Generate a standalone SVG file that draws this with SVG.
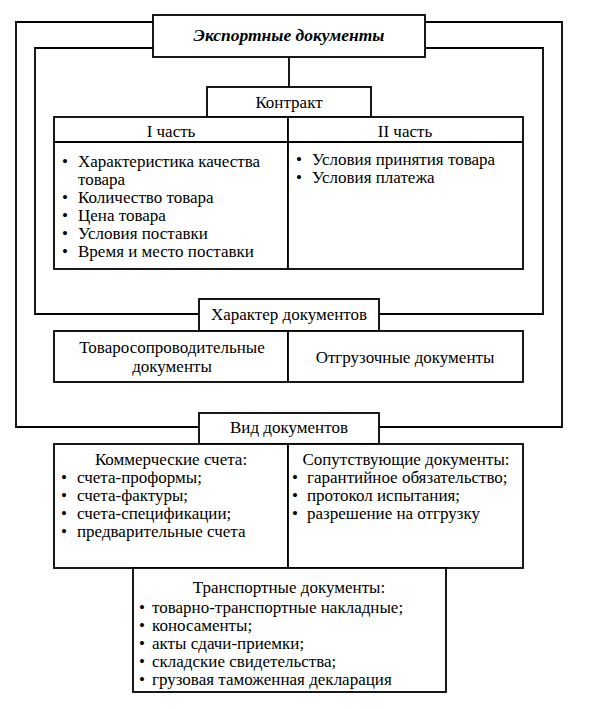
<svg xmlns="http://www.w3.org/2000/svg" width="589" height="709" viewBox="0 0 589 709">
<style>
.b{fill:#fff;stroke:#000;stroke-width:1.8}
.l{fill:none;stroke:#000;stroke-width:1.8}
text{font-family:'Liberation Serif','Times New Roman','DejaVu Serif',serif;font-size:17px;fill:#000}
.c{text-anchor:middle}
.t{font-weight:bold;font-style:italic;font-size:17.5px}
</style>
<rect width="589" height="709" fill="#fff"/>
<g id="connectors">
<polyline class="l" points="153,22 16,22 16,427 199,427"/>
<polyline class="l" points="425,22 562,22 562,427 379,427"/>
<polyline class="l" points="153,48 35,48 35,314 199,314"/>
<polyline class="l" points="425,48 543,48 543,314 379,314"/>
<line class="l" x1="289" y1="57" x2="289" y2="87"/>
</g>
<g id="export">
<rect class="b" x="153" y="15" width="272" height="42"/>
<text class="c t" x="289" y="41">Экспортные документы</text>
</g>
<g id="contract">
<rect class="b" x="207" y="87" width="164" height="30"/>
<text class="c" x="289" y="108">Контракт</text>
</g>
<g id="part1">
<rect class="b" x="54" y="117" width="234" height="152"/>
<line class="l" x1="54" y1="142" x2="288" y2="142"/>
<text class="c" x="171" y="137">I часть</text>
<text x="62" y="167">•</text><text x="78" y="167">Характеристика качества</text>
<text x="78" y="185">товара</text>
<text x="62" y="203">•</text><text x="78" y="203">Количество товара</text>
<text x="62" y="221">•</text><text x="78" y="221">Цена товара</text>
<text x="62" y="239">•</text><text x="78" y="239">Условия поставки</text>
<text x="62" y="257">•</text><text x="78" y="257">Время и место поставки</text>
</g>
<g id="part2">
<rect class="b" x="288" y="117" width="235" height="152"/>
<line class="l" x1="288" y1="142" x2="523" y2="142"/>
<text class="c" x="405" y="137">II часть</text>
<text x="296" y="165">•</text><text x="312" y="165">Условия принятия товара</text>
<text x="296" y="183">•</text><text x="312" y="183">Условия платежа</text>
</g>
<g id="character">
<rect class="b" x="199" y="299" width="180" height="32"/>
<text class="c" x="289" y="320">Характер документов</text>
</g>
<g id="accompanying">
<rect class="b" x="54" y="331" width="234" height="51"/>
<text class="c" x="172" y="353">Товаросопроводительные</text>
<text class="c" x="172" y="372">документы</text>
</g>
<g id="shipping">
<rect class="b" x="288" y="331" width="235" height="51"/>
<text class="c" x="405" y="363">Отгрузочные документы</text>
</g>
<g id="kind">
<rect class="b" x="199" y="413" width="180" height="31"/>
<text class="c" x="289" y="433">Вид документов</text>
</g>
<g id="commercial">
<rect class="b" x="54" y="444" width="234" height="124"/>
<text class="c" x="171" y="465">Коммерческие счета:</text>
<text x="61" y="483">•</text><text x="77" y="483">счета-проформы;</text>
<text x="61" y="501">•</text><text x="77" y="501">счета-фактуры;</text>
<text x="61" y="519">•</text><text x="77" y="519">счета-спецификации;</text>
<text x="61" y="537">•</text><text x="77" y="537">предварительные счета</text>
</g>
<g id="related">
<rect class="b" x="288" y="444" width="235" height="124"/>
<text class="c" x="406" y="465">Сопутствующие документы:</text>
<text x="292" y="483">•</text><text x="307" y="483">гарантийное обязательство;</text>
<text x="292" y="501">•</text><text x="307" y="501">протокол испытания;</text>
<text x="292" y="519">•</text><text x="307" y="519">разрешение на отгрузку</text>
</g>
<g id="transport">
<rect class="b" x="133" y="568" width="313" height="124"/>
<text class="c" x="289" y="593">Транспортные документы:</text>
<text x="139" y="613">•</text><text x="152" y="613">товарно-транспортные накладные;</text>
<text x="139" y="631">•</text><text x="152" y="631">коносаменты;</text>
<text x="139" y="649">•</text><text x="152" y="649">акты сдачи-приемки;</text>
<text x="139" y="667">•</text><text x="152" y="667">складские свидетельства;</text>
<text x="139" y="685">•</text><text x="152" y="685">грузовая таможенная декларация</text>
</g>
</svg>
